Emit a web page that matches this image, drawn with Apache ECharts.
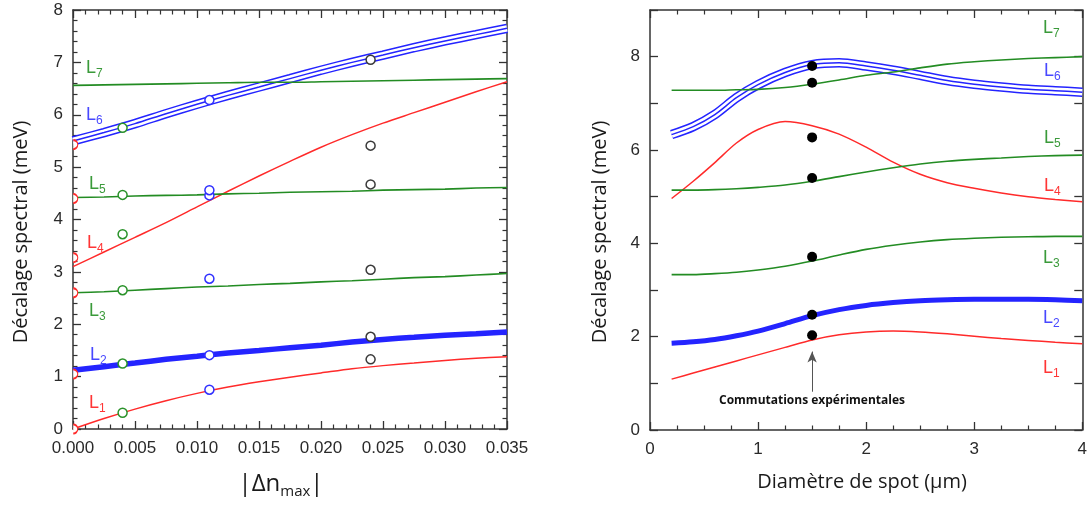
<!DOCTYPE html>
<html>
<head>
<meta charset="utf-8">
<script src="https://cdn.jsdelivr.net/npm/echarts@6/dist/echarts.min.js"></script>
<style>
html,body{margin:0;padding:0;background:#fff;}
#c{width:1090px;height:505px;}
</style>
</head>
<body>
<div id="c"></div>
<script>
// ---------- Left panel data (x = |Δn_max|) ----------
const leftX  = [0, 0.0025, 0.005, 0.0075, 0.01, 0.0125, 0.015, 0.0175, 0.02, 0.0225, 0.025, 0.0275, 0.03, 0.0325, 0.035];
const leftL1 = [0.00, 0.20, 0.38, 0.54, 0.68, 0.80, 0.90, 0.99, 1.07, 1.15, 1.21, 1.26, 1.31, 1.35, 1.38];
const leftL2 = [1.12, 1.19, 1.26, 1.33, 1.39, 1.45, 1.50, 1.55, 1.60, 1.66, 1.71, 1.75, 1.79, 1.82, 1.85];
const leftL3 = [2.60, 2.62, 2.65, 2.68, 2.71, 2.73, 2.76, 2.78, 2.81, 2.83, 2.86, 2.89, 2.91, 2.94, 2.97];
const leftL4 = [3.10, 3.38, 3.66, 3.94, 4.24, 4.54, 4.83, 5.11, 5.38, 5.62, 5.84, 6.04, 6.24, 6.44, 6.63];
const leftL5 = [4.42, 4.43, 4.45, 4.46, 4.47, 4.49, 4.50, 4.52, 4.53, 4.54, 4.56, 4.57, 4.58, 4.60, 4.61];
const leftL6 = [5.50, 5.66, 5.83, 6.02, 6.20, 6.37, 6.53, 6.69, 6.85, 7.00, 7.14, 7.28, 7.41, 7.53, 7.65];
const leftL7 = [6.56, 6.57, 6.58, 6.59, 6.60, 6.61, 6.62, 6.62, 6.63, 6.64, 6.65, 6.66, 6.67, 6.68, 6.69];
// measured points (open circles)
const redPtsX = 0,     redPts   = [0.00, 1.05, 2.60, 3.27, 4.40, 5.43];
const greenPtsX = 0.004, greenPts = [0.31, 1.25, 2.65, 3.72, 4.47, 5.75];
const bluePtsX = 0.011,  bluePts  = [0.75, 1.41, 2.87, 4.46, 4.56, 6.28];
const greyPtsX = 0.024,  greyPts  = [1.33, 1.76, 3.04, 4.67, 5.41, 7.05];

// ---------- Right panel data (x = spot diameter, µm) ----------
const rightX  = [0.2, 0.4, 0.6, 0.8, 1.0, 1.25, 1.5, 1.75, 2.0, 2.25, 2.5, 2.75, 3.0, 3.25, 3.5, 3.75, 4.0];
const rightL1 = [1.09, 1.22, 1.35, 1.48, 1.61, 1.77, 1.93, 2.04, 2.10, 2.12, 2.10, 2.06, 2.01, 1.96, 1.92, 1.88, 1.85];
const rightL2 = [1.86, 1.89, 1.94, 2.02, 2.12, 2.28, 2.45, 2.58, 2.67, 2.73, 2.77, 2.79, 2.80, 2.80, 2.80, 2.79, 2.77];
const rightL3 = [3.33, 3.33, 3.35, 3.38, 3.43, 3.51, 3.62, 3.75, 3.87, 3.96, 4.03, 4.08, 4.11, 4.13, 4.14, 4.15, 4.15];
const rightL4 = [4.96, 5.33, 5.73, 6.15, 6.44, 6.61, 6.52, 6.34, 6.06, 5.74, 5.48, 5.30, 5.18, 5.08, 5.00, 4.94, 4.89];
const rightL5 = [5.14, 5.14, 5.15, 5.17, 5.20, 5.25, 5.33, 5.43, 5.53, 5.62, 5.70, 5.76, 5.80, 5.83, 5.86, 5.88, 5.89];
const rightL6 = [6.33, 6.50, 6.76, 7.12, 7.40, 7.66, 7.83, 7.87, 7.80, 7.71, 7.60, 7.49, 7.41, 7.35, 7.30, 7.27, 7.24];
const rightL7 = [7.28, 7.28, 7.28, 7.29, 7.30, 7.34, 7.41, 7.50, 7.60, 7.67, 7.76, 7.84, 7.89, 7.93, 7.96, 7.98, 8.00];
const expX = 1.5, expPts = [7.80, 7.44, 6.27, 5.40, 3.71, 2.47, 2.03];
const arrowFrom = [1.5, 0.82], arrowTo = [1.5, 1.68];

// ---------- Styling ----------
const RED = '#ff2a2a', GREEN = '#238c23', BLUE = '#2424ff', GREY = '#3a3a3a';
const RED_T = '#ff3535', GREEN_T = '#3a9a3a', BLUE_T = '#4848ff';
const AX = '#333';
const pairs = (xs, ys) => xs.map((x, i) => [x, ys[i]]);
const col = (x, ys) => ys.map(y => [x, y]);

function xAx(grid, pos, min, max, interval, minorSplit, showLabel, fmt) {
  return {
    type: 'value', gridIndex: grid, position: pos, min, max, interval,
    axisLine: { show: true, onZero: false, lineStyle: { color: AX, width: 1.5 } },
    axisTick: { show: true, inside: true, length: 8, lineStyle: { color: AX, width: 1.3 } },
    minorTick: { show: true, splitNumber: minorSplit, length: 4.5, lineStyle: { color: AX, width: 1.2 } },
    splitLine: { show: false }, minorSplitLine: { show: false },
    axisLabel: { show: showLabel, color: '#2a2a2a', fontSize: 17, fontFamily: 'Liberation Sans', margin: 11, formatter: fmt }
  };
}
function yAx(grid, pos, min, max, interval, minorSplit, showLabel, fmt) {
  return {
    type: 'value', gridIndex: grid, position: pos, min, max, interval,
    axisLine: { show: true, onZero: false, lineStyle: { color: AX, width: 1.5 } },
    axisTick: { show: true, inside: true, length: 8, lineStyle: { color: AX, width: 1.3 } },
    minorTick: { show: minorSplit > 0, splitNumber: minorSplit || 5, length: 4.5, lineStyle: { color: AX, width: 1.2 } },
    splitLine: { show: false }, minorSplitLine: { show: false },
    axisLabel: { show: showLabel, color: '#2a2a2a', fontSize: 17, fontFamily: 'Liberation Sans', margin: 10, formatter: fmt }
  };
}

function line(xi, yi, data, color, width, z) {
  return { type: 'line', xAxisIndex: xi, yAxisIndex: yi, data, smooth: 0.3, showSymbol: false,
    lineStyle: { color, width }, itemStyle: { color }, z: z || 2, silent: true };
}
function triple(xi, yi, data) {
  return [
    line(xi, yi, data, BLUE, 9.5, 2),
    line(xi, yi, data, '#ffffff', 6.5, 3),
    line(xi, yi, data, BLUE, 1.5, 4)
  ];
}
function openPts(data, color, half) {
  const s = { type: 'scatter', xAxisIndex: 0, yAxisIndex: 0, data, symbolSize: 9, z: 10,
    itemStyle: { color: '#fff', borderColor: color, borderWidth: 1.5, opacity: 1 }, silent: true };
  if (half) { s.symbol = 'path://M0,0 A10,10 0 0,1 0,20'; s.symbolSize = [4.5, 9]; s.symbolOffset = [2.5, 0]; }
  return s;
}

const series = [
  ...triple(0, 0, pairs(leftX, leftL6)),
  line(0, 0, pairs(leftX, leftL2), BLUE, 5.5, 5),
  line(0, 0, pairs(leftX, leftL1), RED, 1.5, 6),
  line(0, 0, pairs(leftX, leftL3), GREEN, 1.6, 6),
  line(0, 0, pairs(leftX, leftL4), RED, 1.5, 6),
  line(0, 0, pairs(leftX, leftL5), GREEN, 1.6, 6),
  line(0, 0, pairs(leftX, leftL7), GREEN, 1.6, 6),
  openPts(col(redPtsX, redPts), RED, true),
  openPts(col(greenPtsX, greenPts), '#2a922a'),
  openPts(col(bluePtsX, bluePts), '#3030ff'),
  openPts(col(greyPtsX, greyPts), GREY),

  ...triple(2, 2, pairs(rightX, rightL6)),
  line(2, 2, pairs(rightX, rightL2), BLUE, 5, 5),
  line(2, 2, pairs(rightX, rightL1), RED, 1.5, 6),
  line(2, 2, pairs(rightX, rightL3), GREEN, 1.6, 6),
  line(2, 2, pairs(rightX, rightL4), RED, 1.5, 6),
  line(2, 2, pairs(rightX, rightL5), GREEN, 1.6, 6),
  line(2, 2, pairs(rightX, rightL7), GREEN, 1.6, 6),
  { type: 'scatter', xAxisIndex: 2, yAxisIndex: 2, data: col(expX, expPts), symbolSize: 10, z: 10,
    itemStyle: { color: '#000', opacity: 1 }, silent: true,
    markLine: { silent: true, symbol: ['none', 'arrow'], symbolSize: [7, 11], label: { show: false },
      lineStyle: { color: '#555', width: 1, type: 'solid' },
      data: [[{ coord: arrowFrom }, { coord: arrowTo }]] } }
];

const lbl = (x, y, n, color) => ({
  type: 'text', x, y, z: 50,
  style: { text: '{a|L}{b|' + n + '}', fill: color, align: 'left', verticalAlign: 'middle',
    rich: { a: { fontSize: 18, fontFamily: 'Liberation Sans', fill: color, lineHeight: 24 },
            b: { fontSize: 12, fontFamily: 'Liberation Sans', fill: color, verticalAlign: 'bottom', lineHeight: 13 } } }
});
const TITLE_FONT = '"Open Sans", "Noto Sans", sans-serif';

const option = {
  animation: false,
  backgroundColor: '#fff',
  grid: [
    { left: 73, top: 10, width: 434, height: 419 },
    { left: 650, top: 10, width: 433, height: 420 }
  ],
  xAxis: [
    xAx(0, 'bottom', 0, 0.035, 0.005, 5, true, v => v.toFixed(3)),
    xAx(0, 'top', 0, 0.035, 0.005, 5, false),
    xAx(1, 'bottom', 0, 4, 1, 4, true, v => String(v)),
    xAx(1, 'top', 0, 4, 1, 4, false)
  ],
  yAxis: [
    yAx(0, 'left', 0, 8, 1, 5, true, v => String(v)),
    yAx(0, 'right', 0, 8, 1, 5, false),
    yAx(1, 'left', 0, 9, 1, 0, true, v => (v % 2 === 0 && v <= 8) ? String(v) : ''),
    yAx(1, 'right', 0, 9, 1, 0, false)
  ],
  series,
  graphic: [
    { type: 'text', x: 21, y: 232, rotation: Math.PI / 2, z: 50,
      style: { text: 'Décalage spectral (meV)', fontSize: 20, fontFamily: TITLE_FONT, fill: '#1a1a1a', align: 'center', verticalAlign: 'middle' } },
    { type: 'text', x: 600, y: 232, rotation: Math.PI / 2, z: 50,
      style: { text: 'Décalage spectral (meV)', fontSize: 20, fontFamily: TITLE_FONT, fill: '#1a1a1a', align: 'center', verticalAlign: 'middle' } },
    { type: 'text', x: 862, y: 482, z: 50,
      style: { text: 'Diamètre de spot (µm)', fontSize: 20, fontFamily: TITLE_FONT, fill: '#1a1a1a', align: 'center', verticalAlign: 'middle' } },
    { type: 'text', x: 281, y: 484, z: 50,
      style: { text: '{a||Δn}{b|max}{a||}', align: 'center', verticalAlign: 'middle', fill: '#1a1a1a',
        rich: { a: { fontSize: 24, fontFamily: TITLE_FONT, fill: '#1a1a1a', lineHeight: 30 },
                b: { fontSize: 15, fontFamily: TITLE_FONT, fill: '#1a1a1a', verticalAlign: 'bottom', lineHeight: 12 } } } },
    { type: 'text', x: 812, y: 401, z: 50,
      style: { text: 'Commutations expérimentales', fontSize: 12, fontWeight: 'bold', fontFamily: TITLE_FONT, fill: '#111', align: 'center', verticalAlign: 'middle' } },
    lbl(86, 68, 7, GREEN_T), lbl(86, 115, 6, BLUE_T), lbl(89, 184, 5, GREEN_T), lbl(87, 243, 4, RED_T),
    lbl(89, 311, 3, GREEN_T), lbl(90, 355, 2, BLUE_T), lbl(89, 403, 1, RED_T),
    lbl(1043, 28, 7, GREEN_T), lbl(1044, 71, 6, BLUE_T), lbl(1044, 138, 5, GREEN_T), lbl(1044, 186, 4, RED_T),
    lbl(1043, 258, 3, GREEN_T), lbl(1043, 318, 2, BLUE_T), lbl(1043, 368, 1, RED_T)
  ]
};

const chart = echarts.init(document.getElementById('c'), null, { renderer: 'canvas' });
chart.setOption(option);
</script>
</body>
</html>
